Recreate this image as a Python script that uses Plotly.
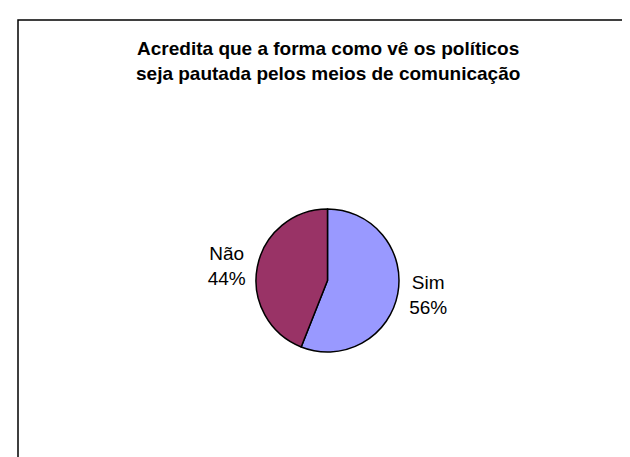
import plotly.graph_objects as go

labels = ["Sim", "Não"]
values = [56, 44]
colors = ["#9999FF", "#993366"]
title_lines = ["Acredita que a forma como vê os políticos", "seja pautada pelos meios de comunicação"]

W, H = 630, 457
cx, cy, r = 319.5, 272.5, 71.5

fig = go.Figure(go.Pie(
    labels=labels, values=values, sort=False, direction="clockwise", rotation=0,
    marker=dict(colors=colors, line=dict(color="black", width=1.5)),
    textinfo="label+percent", textposition="outside",
    texttemplate="%{label}<br>%{percent:.0%}",
    outsidetextfont=dict(family="Liberation Sans, Arial", size=19, color="black"),
    domain=dict(x=[(cx - 150) / W, (cx + 150) / W], y=[1 - (cy + r) / H, 1 - (cy - r) / H]),
    showlegend=False, hoverinfo="label+percent",
))

fig.update_layout(
    width=W, height=H, margin=dict(l=0, r=0, t=0, b=0),
    paper_bgcolor="white", plot_bgcolor="white",
    annotations=[dict(
        text="<b>" + title_lines[0] + "</b><br><b>" + title_lines[1] + "</b>",
        x=320 / W, y=1 - 60 / H, xref="paper", yref="paper", showarrow=False,
        font=dict(family="Liberation Sans, Arial", size=19, color="black"),
        align="center", xanchor="center", yanchor="middle", yshift=7,
    )],
    shapes=[dict(type="rect", xref="paper", yref="paper",
                 x0=10 / W, x1=1.05, y0=-0.05, y1=1 - 12 / H,
                 line=dict(color="black", width=1.5), fillcolor="rgba(0,0,0,0)")],
)

fig.write_html("out.html")
